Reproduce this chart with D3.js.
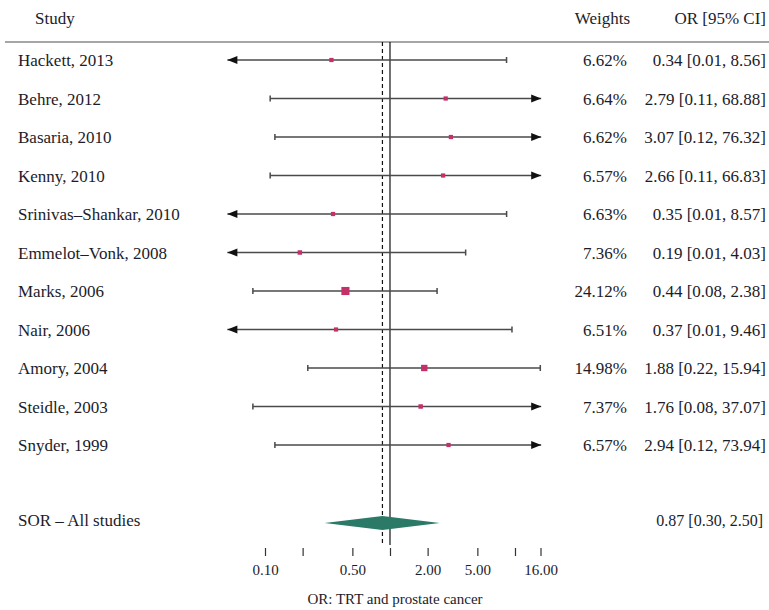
<!DOCTYPE html>
<html>
<head>
<meta charset="utf-8">
<script src="https://cdn.jsdelivr.net/npm/d3@7"></script>
<style>
  body { margin: 0; background: #fff; }
  svg { display: block; font-family: 'Liberation Serif', 'DejaVu Serif', serif; }
</style>
</head>
<body>
<div class="canvas"></div>
<script>
const studies = ['Hackett, 2013', 'Behre, 2012', 'Basaria, 2010', 'Kenny, 2010', 'Srinivas\u2013Shankar, 2010',
  'Emmelot\u2013Vonk, 2008', 'Marks, 2006', 'Nair, 2006', 'Amory, 2004', 'Steidle, 2003', 'Snyder, 1999']
const weights = [6.62, 6.64, 6.62, 6.57, 6.63, 7.36, 24.12, 6.51, 14.98, 7.37, 6.57]
const or = [0.34, 2.79, 3.07, 2.66, 0.35, 0.19, 0.44, 0.37, 1.88, 1.76, 2.94]
const lower = [0.01, 0.11, 0.12, 0.11, 0.01, 0.01, 0.08, 0.01, 0.22, 0.08, 0.12]
const upper = [8.56, 68.88, 76.32, 66.83, 8.57, 4.03, 2.38, 9.46, 15.94, 37.07, 73.94]
const summary = { label: 'SOR \u2013 All studies', or: 0.87, lower: 0.30, upper: 2.50 }
const tickValues = [0.1, 0.2, 0.5, 1, 2, 5, 10, 16]
const tickLabels = ['0.10', '', '0.50', '', '2.00', '5.00', '', '16.00']

const dims = { width: 769, height: 610 }
const clip = { min: 0.05, max: 16.2 }
const textColor = '#1c1c2a'
const lineColor = '#4a4a4a'
const markColor = '#c4306a'
const diamondColor = '#2b7a68'

const svg = d3.select('.canvas').append('svg')
  .attr('width', dims.width)
  .attr('height', dims.height)

const x = d3.scaleLog().domain([0.1, 16]).range([265, 540.5])
const y = d3.scalePoint().domain(studies).range([60, 445])
const ySum = 523
const fmt = d3.format('.2f')

// header
svg.append('text').attr('x', 35).attr('y', 24).text('Study')
  .attr('font-size', 17).attr('fill', textColor)
svg.append('text').attr('x', 630).attr('y', 24).attr('text-anchor', 'end').text('Weights')
  .attr('font-size', 17).attr('fill', textColor)
svg.append('text').attr('x', 766).attr('y', 24).attr('text-anchor', 'end').text('OR [95% CI]')
  .attr('font-size', 17).attr('fill', textColor)
svg.append('line').attr('x1', 5).attr('x2', 769).attr('y1', 42).attr('y2', 42)
  .attr('stroke', '#888').attr('stroke-width', 1.5)

// reference lines
svg.append('line').attr('x1', x(1)).attr('x2', x(1)).attr('y1', 42).attr('y2', 545)
  .attr('stroke', '#111').attr('stroke-width', 1.2)
svg.append('line').attr('x1', x(summary.or)).attr('x2', x(summary.or)).attr('y1', 42).attr('y2', 545)
  .attr('stroke', '#111').attr('stroke-width', 1.2).attr('stroke-dasharray', '4,3')

const rows = svg.append('g').selectAll('g')
  .data(studies.map((s, i) => ({ s, w: weights[i], or: or[i], lo: lower[i], hi: upper[i] })))
  .join('g')
  .attr('transform', (d) => `translate(0, ${y(d.s)})`)

rows.append('text').attr('x', 18).attr('y', 6).text((d) => d.s)
  .attr('font-size', 17).attr('fill', textColor)
rows.append('text').attr('x', 627).attr('y', 6).attr('text-anchor', 'end')
  .text((d) => fmt(d.w) + '%').attr('font-size', 17).attr('fill', textColor)
rows.append('text').attr('x', 766).attr('y', 6).attr('text-anchor', 'end')
  .text((d) => `${fmt(d.or)} [${fmt(d.lo)}, ${fmt(d.hi)}]`).attr('font-size', 17).attr('fill', textColor)

// CI lines, clipped to plot range
rows.append('line')
  .attr('x1', (d) => x(Math.max(d.lo, clip.min)))
  .attr('x2', (d) => x(Math.min(d.hi, clip.max)))
  .attr('stroke', lineColor).attr('stroke-width', 1.6)

// end caps or arrows
rows.each(function (d) {
  const g = d3.select(this)
  if (d.lo < clip.min) {
    const tip = x(clip.min)
    g.append('path').attr('d', `M${tip},0 L${tip + 10},-4 L${tip + 10},4 Z`).attr('fill', '#111')
  } else {
    g.append('line').attr('x1', x(d.lo)).attr('x2', x(d.lo)).attr('y1', -3).attr('y2', 3)
      .attr('stroke', lineColor).attr('stroke-width', 1.5)
  }
  if (d.hi > clip.max) {
    const tip = x(clip.max)
    g.append('path').attr('d', `M${tip},0 L${tip - 10},-4 L${tip - 10},4 Z`).attr('fill', '#111')
  } else {
    g.append('line').attr('x1', x(d.hi)).attr('x2', x(d.hi)).attr('y1', -3).attr('y2', 3)
      .attr('stroke', lineColor).attr('stroke-width', 1.5)
  }
})

// weight squares
const side = (w) => 1.65 * Math.sqrt(w)
rows.append('rect')
  .attr('x', (d) => x(d.or) - side(d.w) / 2)
  .attr('y', (d) => -side(d.w) / 2)
  .attr('width', (d) => side(d.w))
  .attr('height', (d) => side(d.w))
  .attr('fill', markColor)

// summary row
svg.append('text').attr('x', 18).attr('y', ySum + 3).text(summary.label)
  .attr('font-size', 17).attr('fill', textColor)
svg.append('text').attr('x', 763).attr('y', ySum + 3).attr('text-anchor', 'end')
  .text(`${fmt(summary.or)} [${fmt(summary.lower)}, ${fmt(summary.upper)}]`)
  .attr('font-size', 16).attr('fill', textColor)
svg.append('path')
  .attr('d', `M${x(summary.lower)},${ySum} L${x(summary.or)},${ySum - 7} L${x(summary.upper)},${ySum} L${x(summary.or)},${ySum + 7} Z`)
  .attr('fill', diamondColor)

// axis
const axis = d3.axisBottom(x)
  .tickValues(tickValues)
  .tickFormat((d, i) => tickLabels[i])
  .tickSize(8)
  .tickPadding(8)
const axisG = svg.append('g').attr('transform', 'translate(0, 548)').call(axis)
axisG.select('.domain').remove()
axisG.selectAll('.tick line').attr('stroke', '#333').attr('stroke-width', 1.2)
axisG.selectAll('.tick text').attr('font-size', 15).attr('fill', textColor)
  .attr('font-family', "'Liberation Serif', serif")

svg.append('text').attr('x', 395).attr('y', 604).attr('text-anchor', 'middle')
  .text('OR: TRT and prostate cancer').attr('font-size', 15).attr('fill', textColor)
</script>
</body>
</html>
